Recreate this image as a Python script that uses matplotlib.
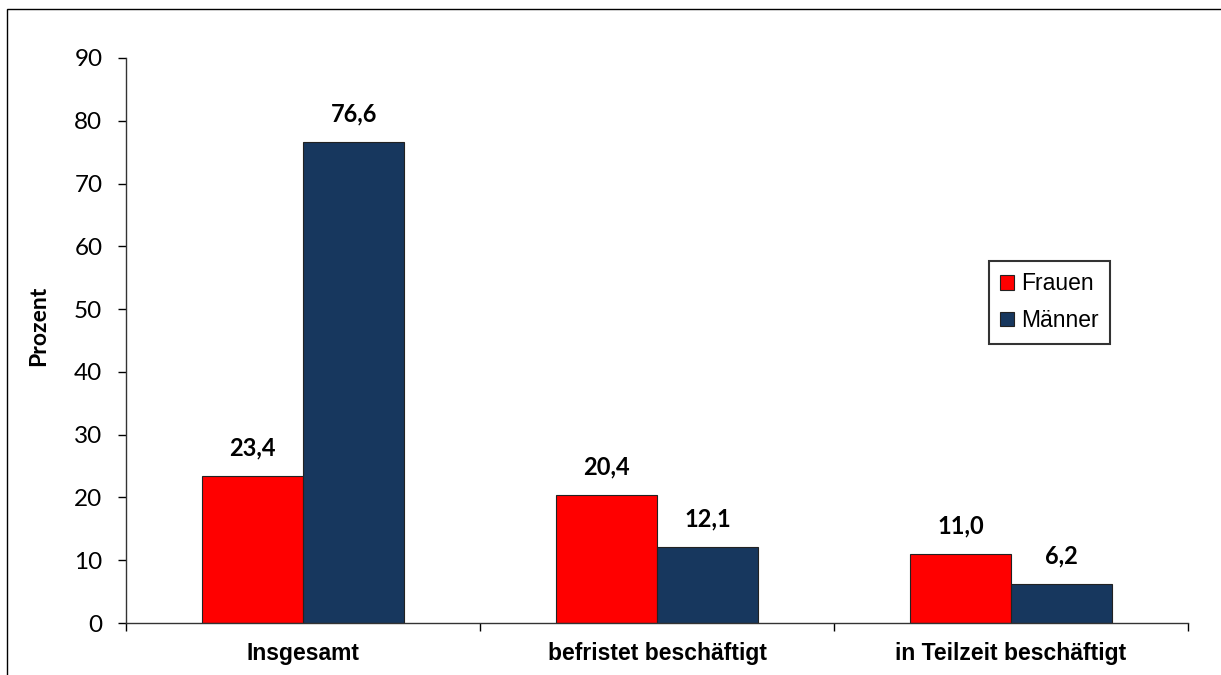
import matplotlib
matplotlib.use("Agg")
import matplotlib.pyplot as plt
from matplotlib.patches import Rectangle

# ── Data ────────────────────────────────────────────────────────────
categories = ["Insgesamt", "befristet beschäftigt", "in Teilzeit beschäftigt"]
frauen     = [23.4, 20.4, 11.0]
maenner    = [76.6, 12.1, 6.2]
series     = ["Frauen", "Männer"]
yticks     = [0, 10, 20, 30, 40, 50, 60, 70, 80, 90]

RED  = "#FF0000"
NAVY = "#17375E"
NUM_FONT = ["Lato", "DejaVu Sans"]
TXT_FONT = ["Liberation Sans", "DejaVu Sans"]


def fmt(v):
    return f"{v:.1f}".replace(".", ",")


fig = plt.figure(figsize=(12.21, 6.75), dpi=100)
W, H = 1221, 675
ax = fig.add_axes([126 / W, 1 - 623 / H, (1188 - 126) / W, (623 - 58) / H])

# outer chart border (only top/left visible in the crop)
fig.patches.append(Rectangle((7 / W, -0.1), 1.2, 1 - 9 / H + 0.1,
                             transform=fig.transFigure, fill=False,
                             edgecolor="black", linewidth=1.0))

width = 0.286
centers = [i + 0.5 for i in range(len(categories))]
bars_f = ax.bar([c - width / 2 for c in centers], frauen, width,
                color=RED, edgecolor="#222222", linewidth=0.8, label=series[0])
bars_m = ax.bar([c + width / 2 for c in centers], maenner, width,
                color=NAVY, edgecolor="#222222", linewidth=0.8, label=series[1])

for bars, vals in ((bars_f, frauen), (bars_m, maenner)):
    for b, v in zip(bars, vals):
        ax.annotate(fmt(v), (b.get_x() + b.get_width() / 2, v),
                    xytext=(0, 12), textcoords="offset points",
                    ha="center", va="bottom", fontsize=17, fontweight="bold",
                    family=NUM_FONT)

ax.set_xlim(0, len(categories))
ax.set_ylim(0, 90)
ax.set_yticks(yticks)
ax.set_yticklabels([str(t) for t in yticks], family=NUM_FONT, fontsize=17.5)
ax.tick_params(axis="y", direction="out", length=6, width=1, pad=11)

ax.set_xticks(range(len(categories) + 1))
ax.set_xticklabels([])
ax.tick_params(axis="x", which="major", direction="out", length=6, width=1)
ax.set_xticks(centers, minor=True)
ax.set_xticklabels(categories, minor=True, fontsize=16.5, fontweight="bold",
                   family=TXT_FONT)
ax.tick_params(axis="x", which="minor", length=0, pad=14)

ax.spines[["top", "right"]].set_visible(False)
for s in ("left", "bottom"):
    ax.spines[s].set_linewidth(1)
    ax.spines[s].set_color("#333333")

ax.set_ylabel("Prozent", fontsize=16.5, fontweight="bold", family=NUM_FONT)
ax.yaxis.set_label_coords(-0.072, 0.526)

leg = ax.legend(loc="upper left", bbox_to_anchor=(989 / W, 1 - 261 / H),
                bbox_transform=fig.transFigure, frameon=True, fancybox=False,
                prop={"family": TXT_FONT, "size": 16.5},
                handlelength=0.6, handleheight=0.6, handletextpad=0.3,
                labelspacing=0.6, borderpad=0.5, borderaxespad=0)
leg.get_frame().set_edgecolor("black")
leg.get_frame().set_linewidth(1.5)

fig.savefig("out.png", dpi=100, facecolor="white")
